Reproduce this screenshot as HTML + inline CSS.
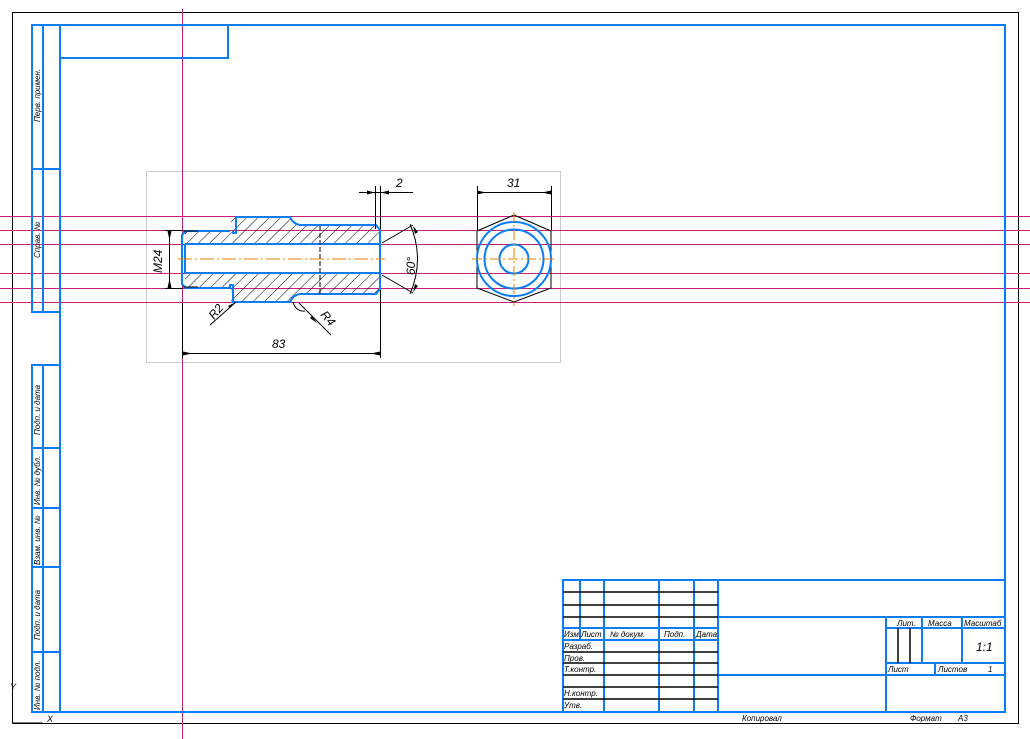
<!DOCTYPE html>
<html><head><meta charset="utf-8"><style>
html,body{margin:0;padding:0;background:#fff;width:1030px;height:739px;overflow:hidden}
text{font-family:"Liberation Sans",sans-serif;font-style:italic}
</style></head><body>
<svg width="1030" height="739" viewBox="0 0 1030 739" xmlns="http://www.w3.org/2000/svg">
<defs>
<pattern id="h" patternUnits="userSpaceOnUse" width="8" height="8" patternTransform="rotate(45)">
<line x1="0" y1="0" x2="0" y2="8" stroke="#000" stroke-width="1"/>
</pattern>
</defs>
<path d="M12.5 723.5 V12.5 H1018.5 V723.5 H12.5" fill="none" stroke="#000" stroke-width="1"/>
<rect x="146.5" y="171.5" width="414" height="191" fill="none" stroke="#ccc" stroke-width="1"/>
<g stroke="#c8207a" stroke-width="1">
<line x1="182.5" y1="9" x2="182.5" y2="739"/>
<line x1="0" y1="216.5" x2="1030" y2="216.5"/>
<line x1="0" y1="230.5" x2="1030" y2="230.5"/>
<line x1="0" y1="244.5" x2="1030" y2="244.5"/>
<line x1="0" y1="273.5" x2="1030" y2="273.5"/>
<line x1="0" y1="288.5" x2="1030" y2="288.5"/>
<line x1="0" y1="302.5" x2="1030" y2="302.5"/>
</g>
<g stroke="#0a7cf5" stroke-width="2" fill="none">
<rect x="60" y="25" width="945" height="687"/>
<rect x="60" y="25" width="168" height="33"/>
<rect x="32" y="25" width="28" height="287"/>
<line x1="43" y1="25" x2="43" y2="312"/>
<line x1="32" y1="169" x2="60" y2="169"/>
<rect x="32" y="365" width="28" height="347"/>
<line x1="43" y1="365" x2="43" y2="712"/>
<line x1="32" y1="448" x2="60" y2="448"/>
<line x1="32" y1="508" x2="60" y2="508"/>
<line x1="32" y1="567" x2="60" y2="567"/>
<line x1="32" y1="652" x2="60" y2="652"/>
</g>
<g font-size="8" fill="#000">
<text transform="translate(40,122) rotate(-90)">Перв. примен.</text>
<text transform="translate(40,258) rotate(-90)">Справ. №</text>
<text transform="translate(40,435) rotate(-90)">Подп. и дата</text>
<text transform="translate(40,505) rotate(-90)">Инв. № дубл.</text>
<text transform="translate(40,565) rotate(-90)">Взам. инв. №</text>
<text transform="translate(40,640) rotate(-90)">Подп. и дата</text>
<text transform="translate(40,710) rotate(-90)">Инв. № подл.</text>
</g>
<path d="M12.5 680 v43 h30" stroke="#000" fill="none"/>
<text x="10" y="690" font-size="9" font-style="normal">Y</text>
<text x="47" y="722" font-size="9" font-style="normal">X</text>

<g fill="url(#h)" stroke="none">
<path d="M185 231 H231 V217 H290 Q292 225 300 225 H376 L380 230 V244 H185 Z"/>
<path d="M185 288 H231 V302 H290 Q292 294 300 294 H376 L380 289 V273 H185 Z"/>
</g>
<g stroke="#0a7cf5" stroke-width="2" fill="none" stroke-linejoin="round">
<path d="M230 231 H186 L182 235 V284 L186 288 H230 V285 H233 V302 H290 Q293 295 300 294 H376 L380 289 V230 L376 225 H300 Q293 224 290 217 H236 V233 H233 V231"/>
<path d="M185 244 H380 M185 273 H380 M185 244 V273"/>
</g>
<g stroke="#000" stroke-width="1" fill="none">
<line x1="320" y1="226" x2="320" y2="294" stroke-dasharray="5,2"/>
<line x1="183" y1="231" x2="198" y2="231"/>
<line x1="183" y1="287" x2="198" y2="287"/>
</g>
<line x1="178" y1="259" x2="385" y2="259" stroke="#f08000" stroke-width="1" stroke-dasharray="14,3,2,3"/>
<g stroke="#000" stroke-width="1" fill="none">
<path d="M514 215 L551 231 V288 L514 302 L477 288 V231 Z"/>
</g>
<g stroke="#0a7cf5" stroke-width="2" fill="none">
<circle cx="514" cy="259" r="37"/>
<circle cx="514" cy="259" r="29.5"/>
<circle cx="514" cy="259" r="14.5"/>
</g>
<g stroke="#f08000" stroke-width="1" stroke-dasharray="10,3,2,3">
<line x1="472" y1="259" x2="557" y2="259"/>
<line x1="514" y1="212" x2="514" y2="306"/>
</g>
<g stroke="#000" stroke-width="1" fill="none">
<line x1="359" y1="192.5" x2="413" y2="192.5"/>
<line x1="375.5" y1="186" x2="375.5" y2="229"/>
<line x1="380.5" y1="186" x2="380.5" y2="229"/>
<line x1="477" y1="192.5" x2="551" y2="192.5"/>
<line x1="477.5" y1="186" x2="477.5" y2="230"/>
<line x1="551.5" y1="186" x2="551.5" y2="230"/>
<line x1="169.5" y1="231" x2="169.5" y2="288"/>
<line x1="165" y1="230.5" x2="183" y2="230.5"/>
<line x1="165" y1="288.5" x2="183" y2="288.5"/>
<line x1="183" y1="353.5" x2="380" y2="353.5"/>
<line x1="182.5" y1="303" x2="182.5" y2="358"/>
<line x1="380.5" y1="290" x2="380.5" y2="358"/>
<line x1="382" y1="243" x2="413" y2="225"/>
<line x1="382" y1="275" x2="413" y2="293"/>
<path d="M410 224 Q425 259 410 294"/>
<line x1="210" y1="325" x2="236" y2="302"/>
<line x1="331" y1="335" x2="299" y2="303"/>
<path d="M293 302 Q296 312 305 311"/>
</g>
<g fill="#000">
<path d="M375 192.5 l-8 -2 v4z M381 192.5 l8 -2 v4z"/>
<path d="M477 190.5 l9 2 l-9 2z M551 190.5 l-9 2 l9 2z"/>
<path d="M167.5 231 l2 9 l2 -9z M167.5 288 l2 -9 l2 9z"/>
<path d="M183 351.5 l9 2 l-9 2z M380 351.5 l-9 2 l9 2z"/>
<path d="M236 302 l-8 4 l2 2z"/>
<path d="M317 323 l-5 -7 l-2 2z"/>
<path d="M413 226 l2 8 l3 -2z M413 292 l2 -8 l3 2z"/>
</g>
<g font-size="12" fill="#000">
<text x="396" y="187">2</text>
<text x="507" y="187">31</text>
<text x="272" y="348">83</text>
<text transform="translate(162,273) rotate(-90)">M24</text>
<text transform="translate(415,275) rotate(-90)">60°</text>
<text transform="translate(214,320) rotate(-50)">R2</text>
<text transform="translate(320,315) rotate(50)">R4</text>
</g>

<g stroke="#0a7cf5" stroke-width="2" fill="none">
<rect x="563" y="580" width="442" height="132"/>
<line x1="580" y1="580" x2="580" y2="640"/>
<line x1="604" y1="580" x2="604" y2="712"/>
<line x1="659" y1="580" x2="659" y2="712"/>
<line x1="694" y1="580" x2="694" y2="712"/>
<line x1="718" y1="580" x2="718" y2="712"/>
<line x1="718" y1="617" x2="1005" y2="617"/>
<line x1="718" y1="675" x2="1005" y2="675"/>
<line x1="886" y1="617" x2="886" y2="712"/>
<line x1="886" y1="628" x2="1005" y2="628"/>
<line x1="886" y1="663" x2="1005" y2="663"/>
<line x1="922" y1="617" x2="922" y2="663"/>
<line x1="962" y1="617" x2="962" y2="663"/>
<line x1="935" y1="663" x2="935" y2="675"/>
<line x1="563" y1="628" x2="718" y2="628"/>
<line x1="563" y1="640" x2="718" y2="640"/>
</g>
<g stroke="#000" stroke-width="1.5">
<line x1="563" y1="592" x2="718" y2="592"/>
<line x1="563" y1="605" x2="718" y2="605"/>
<line x1="563" y1="617" x2="718" y2="617"/>
<line x1="563" y1="652" x2="718" y2="652"/>
<line x1="563" y1="663" x2="718" y2="663"/>
<line x1="563" y1="675" x2="718" y2="675"/>
<line x1="563" y1="687" x2="718" y2="687"/>
<line x1="563" y1="699" x2="718" y2="699"/>
<line x1="898" y1="628" x2="898" y2="663"/>
<line x1="910" y1="628" x2="910" y2="663"/>
</g>
<g font-size="8" fill="#000">
<text x="564" y="637">Изм.</text><text x="581" y="637">Лист</text>
<text x="610" y="637">№ докум.</text><text x="664" y="637">Подп.</text><text x="696" y="637">Дата</text>
<text x="564" y="649">Разраб.</text><text x="564" y="661">Пров.</text>
<text x="564" y="672">Т.контр.</text><text x="564" y="696">Н.контр.</text>
<text x="564" y="708">Утв.</text>
<text x="897" y="626">Лит.</text><text x="928" y="626">Масса</text><text x="964" y="626">Масштаб</text>
<text x="888" y="672">Лист</text><text x="938" y="672">Листов</text><text x="988" y="672">1</text>
<text x="742" y="721">Копировал</text><text x="910" y="721">Формат</text><text x="958" y="721">A3</text>
</g>
<text x="976" y="651" font-size="12">1:1</text>
</svg>
</body></html>
